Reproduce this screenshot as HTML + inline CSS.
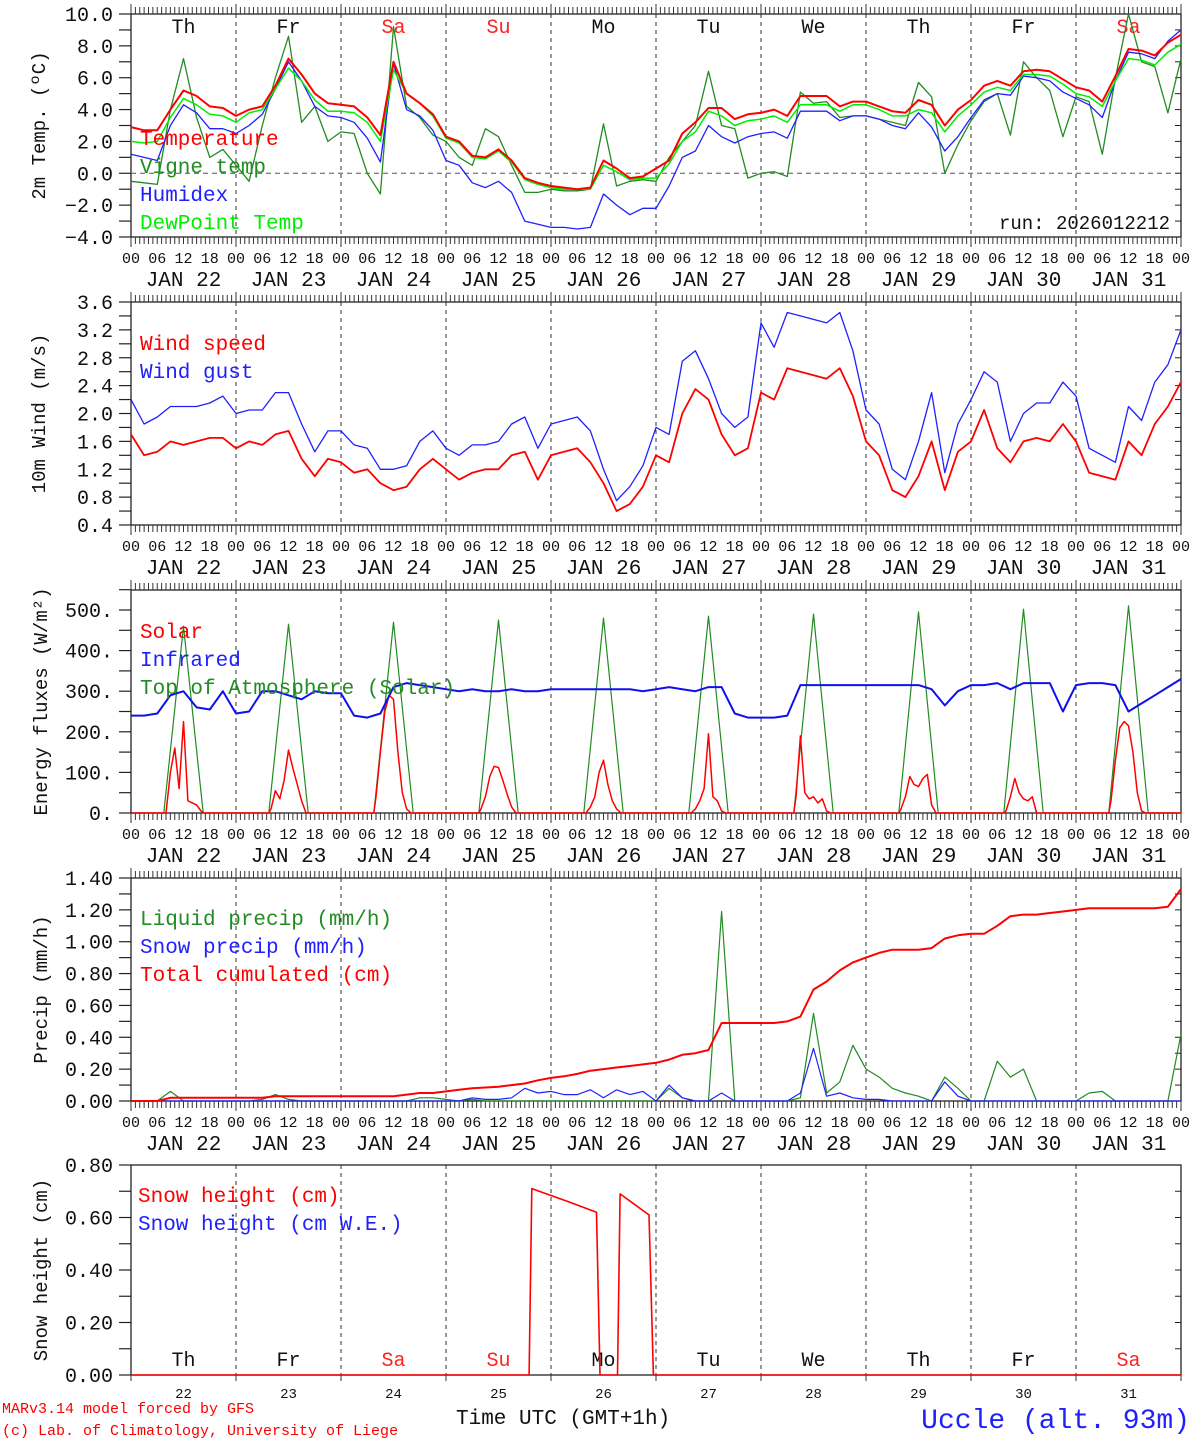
<!DOCTYPE html>
<html><head><meta charset="utf-8"><style>
html,body{margin:0;padding:0;background:#fff;}
svg{display:block;}
text{font-family:"Liberation Mono","DejaVu Sans Mono",monospace;}
</style></head><body>
<svg id="chart" width="1194" height="1440" viewBox="0 0 1194 1440" xmlns="http://www.w3.org/2000/svg"></svg>
<script>
// ---------- data (3-hourly, 81 points from Jan 22 00 UTC) ----------
const dayLabels = ["JAN 22","JAN 23","JAN 24","JAN 25","JAN 26","JAN 27","JAN 28","JAN 29","JAN 30","JAN 31"];
const dayNames = ["Th","Fr","Sa","Su","Mo","Tu","We","Th","Fr","Sa"];
const dayNums = ["22","23","24","25","26","27","28","29","30","31"];
const hourTicks = ["00","06","12","18"];
const temperature = [2.9,2.7,2.7,4.0,5.2,4.85,4.2,4.1, 3.6,4.0,4.2,5.5,7.2,6.2,5.0,4.4, 4.3,4.2,3.5,2.4,7.0,5.0,4.4,3.7, 2.3,2.0,1.1,1.0,1.5,0.8,-0.3,-0.6, -0.8,-0.9,-1.0,-0.9,0.8,0.3,-0.3,-0.2, 0.3,0.8,2.5,3.2,4.1,4.1,3.4,3.7, 3.8,4.0,3.6,4.85,4.85,4.85,4.2,4.5, 4.5,4.2,3.9,3.8,4.6,4.3,3.0,4.0, 4.6,5.5,5.8,5.5,6.4,6.5,6.4,5.9, 5.4,5.2,4.5,6.1,7.8,7.7,7.4,8.2, 8.7];
const dewpoint = [2.0,1.9,2.0,3.5,4.7,4.3,3.7,3.6, 3.2,3.8,4.0,5.3,6.6,5.8,4.6,3.9, 3.9,3.8,3.2,2.0,6.5,5.0,4.4,3.6, 2.2,1.9,1.0,0.9,1.4,0.7,-0.4,-0.7, -0.9,-1.0,-1.0,-1.0,0.5,0.1,-0.4,-0.3, -0.3,0.6,2.0,2.6,3.9,3.6,3.0,3.3, 3.4,3.6,3.2,4.3,4.3,4.3,3.9,4.3, 4.3,4.0,3.6,3.6,4.0,3.8,2.6,3.6, 4.3,5.1,5.4,5.2,6.2,6.2,6.1,5.6, 5.0,4.8,4.2,5.8,7.2,7.1,6.8,7.6, 8.1];
const humidex = [1.2,1.0,0.8,3.0,4.3,3.8,2.8,2.8, 2.5,3.0,3.7,5.3,7.0,5.8,4.2,3.6, 3.5,3.2,2.2,0.7,6.9,4.0,3.6,2.7, 0.8,0.5,-0.6,-0.9,-0.5,-1.2,-3.0,-3.2, -3.4,-3.4,-3.5,-3.4,-1.3,-2.0,-2.6,-2.2, -2.2,-0.8,1.0,1.4,3.0,2.3,1.9,2.3, 2.5,2.6,2.2,3.9,3.9,3.9,3.3,3.6, 3.6,3.4,3.0,2.8,3.8,2.9,1.4,2.3, 3.5,4.6,5.0,4.9,6.1,6.0,5.8,5.1, 4.7,4.3,3.5,5.8,7.6,7.5,7.2,8.3, 9.0];
const vigne = [-0.5,-0.6,-0.7,4.0,7.2,3.5,1.0,1.5, 0.5,-0.5,3.0,6.0,8.6,3.2,4.2,2.0, 2.6,2.5,0.0,-1.3,9.2,4.2,3.5,2.4, 2.0,1.0,0.5,2.8,2.3,0.5,-1.2,-1.2, -1.0,-1.1,-1.1,-1.0,3.1,-0.8,-0.5,-0.4, -0.5,1.0,2.0,3.0,6.4,3.0,2.8,-0.3, 0.0,0.1,-0.2,5.1,4.4,4.5,3.5,3.6, 3.6,3.4,3.2,3.0,5.7,4.8,0.0,1.8, 3.3,4.5,5.0,2.4,7.0,6.0,5.2,2.3, 4.8,4.5,1.2,6.0,10.0,7.0,6.7,3.8, 7.2];
const windSpeed = [1.7,1.4,1.45,1.6,1.55,1.6,1.65,1.65, 1.5,1.6,1.55,1.7,1.75,1.35,1.1,1.35, 1.3,1.15,1.2,1.0,0.9,0.95,1.2,1.35, 1.2,1.05,1.15,1.2,1.2,1.4,1.45,1.05, 1.4,1.45,1.5,1.3,1.0,0.6,0.7,0.95, 1.4,1.3,2.0,2.35,2.2,1.7,1.4,1.5, 2.3,2.2,2.65,2.6,2.55,2.5,2.65,2.25, 1.6,1.4,0.9,0.8,1.1,1.6,0.9,1.45, 1.6,2.05,1.5,1.3,1.6,1.65,1.6,1.85, 1.6,1.15,1.1,1.05,1.6,1.4,1.85,2.1, 2.45];
const windGust = [2.2,1.85,1.95,2.1,2.1,2.1,2.15,2.25, 2.0,2.05,2.05,2.3,2.3,1.85,1.45,1.75, 1.75,1.55,1.5,1.2,1.2,1.25,1.6,1.75, 1.5,1.4,1.55,1.55,1.6,1.85,1.95,1.5, 1.85,1.9,1.95,1.75,1.2,0.75,0.95,1.25, 1.8,1.7,2.75,2.9,2.5,2.0,1.8,1.95, 3.3,2.95,3.45,3.4,3.35,3.3,3.45,2.9, 2.05,1.85,1.2,1.05,1.6,2.3,1.15,1.85, 2.2,2.6,2.45,1.6,2.0,2.15,2.15,2.45, 2.25,1.5,1.4,1.3,2.1,1.9,2.45,2.7, 3.2];
const infrared = [240,240,245,290,300,260,255,300, 245,250,300,300,290,280,300,295, 295,240,235,245,310,320,315,310, 305,300,305,300,300,305,300,300, 305,305,305,305,305,305,305,300, 305,310,305,300,310,310,245,235, 235,235,240,315,315,315,315,315, 315,315,315,315,315,305,265,300, 315,315,320,305,320,320,320,250, 315,320,320,315,250,270,290,310, 330];
const solarHours = [8,9,10,11,12,13,14,15,16];
const solar = [0,100,160,60,225,30,25,20,5, 10,55,35,80,155,110,70,30,0, 40,150,250,290,280,150,50,10,0, 10,40,90,115,112,80,45,15,0, 0,15,40,100,130,70,30,10,0, 0,10,30,60,195,40,30,5,0, 40,190,50,35,40,25,35,5,0, 10,40,90,70,65,85,95,20,0, 5,40,85,50,35,30,40,0,0, 30,130,210,225,215,150,50,5,0];
const toaPeak = [460,465,470,475,480,485,490,495,502,510];
const liquidPrecip = [0,0,0,0.06,0,0,0,0, 0,0,0.01,0.04,0.01,0,0,0, 0,0,0,0,0,0,0.02,0.02, 0.01,0,0.01,0,0,0,0,0, 0,0,0,0,0,0,0,0, 0,0.08,0.02,0,0,1.19,0,0, 0,0,0,0.02,0.55,0.05,0.12,0.35, 0.2,0.15,0.08,0.05,0.03,0,0.15,0.08, 0,0,0.25,0.15,0.2,0,0,0, 0,0.05,0.06,0,0,0,0,0, 0.42];
const snowPrecip = [0,0,0,0,0,0,0,0, 0,0,0,0,0,0,0,0, 0,0,0,0,0,0,0,0, 0,0,0.02,0.01,0.01,0.02,0.08,0.05, 0.06,0.04,0.04,0.07,0.02,0.07,0.04,0.06, 0,0.1,0.02,0,0,0.05,0,0, 0,0,0,0.05,0.33,0.03,0.05,0.02, 0.01,0.01,0,0,0,0,0.12,0.03, 0,0,0,0,0,0,0,0, 0,0,0,0,0,0,0,0, 0];
const cumulated = [0,0,0,0.02,0.02,0.02,0.02,0.02, 0.02,0.02,0.02,0.03,0.03,0.03,0.03,0.03, 0.03,0.03,0.03,0.03,0.03,0.04,0.05,0.05, 0.06,0.07,0.08,0.085,0.09,0.10,0.11,0.13, 0.145,0.155,0.17,0.19,0.20,0.21,0.22,0.23, 0.24,0.26,0.29,0.30,0.32,0.49,0.49,0.49, 0.49,0.49,0.50,0.53,0.70,0.75,0.82,0.87, 0.90,0.93,0.95,0.95,0.95,0.96,1.02,1.04, 1.05,1.05,1.10,1.16,1.17,1.17,1.18,1.19, 1.20,1.21,1.21,1.21,1.21,1.21,1.21,1.22, 1.33];
const snowHours = [0,91.0,91.6,100,106.4,107.2,111.2,111.8,118.4,119.4,240];
const snowHeight = [0,0,0.71,0.66,0.62,0,0,0.69,0.61,0,0];

// ---------- drawing ----------
const svg = document.getElementById('chart');
const NS = 'http://www.w3.org/2000/svg';
const X0 = 131, X1 = 1181, HOURS = 240;
function xs(h){ return X0 + h*(X1-X0)/HOURS; }
function mk(tag, attrs, parent){
  const e = document.createElementNS(NS, tag);
  for (const k in attrs) e.setAttribute(k, attrs[k]);
  (parent||svg).appendChild(e);
  return e;
}
function txt(s, x, y, size, color, anchor, parent){
  const t = mk('text', {x:x, y:y, 'font-size':size, fill:color, 'text-anchor':anchor||'start'}, parent);
  t.textContent = s;
  return t;
}
const panels = [
  {top:14, bot:237, min:-4, max:10, step:1, lab:2, dec:1, title:'2m Temp. (\u00baC)', ttl:45},
  {top:302, bot:525, min:0.4, max:3.6, step:0.2, lab:0.4, dec:1, title:'10m Wind (m/s)', ttl:45},
  {top:590, bot:813, min:0, max:(813-590)/0.406, step:50, lab:100, dec:0, title:'Energy fluxes (W/m\u00b2)', ttl:47},
  {top:878, bot:1101, min:0, max:1.4, step:0.1, lab:0.2, dec:2, title:'Precip (mm/h)', ttl:47},
  {top:1165, bot:1375, min:0, max:0.8, step:0.1, lab:0.2, dec:2, title:'Snow height (cm)', ttl:47}
];
function ys(p, v){ return p.bot - (v - p.min)*(p.bot - p.top)/(p.max - p.min); }

panels.forEach(function(p, pi){
  const g = mk('g', {});
  
  
  for (let d=1; d<10; d++){
    const l = mk('line', {x1:xs(d*24), x2:xs(d*24), y1:p.top, y2:p.bot, stroke:'#333', 'stroke-width':1, 'stroke-dasharray':'4,4'}, g);
    
    
  }
  const fr = mk('rect', {x:X0, y:p.top, width:X1-X0, height:p.bot-p.top, fill:'none', stroke:'#222', 'stroke-width':1.3}, g);
  
  
  const n = Math.round((Math.min(p.max, pi==2?550:p.max) - p.min)/p.step);
  for (let i=0; i<=n; i++){
    const v = p.min + i*p.step;
    const y = ys(p, v);
    mk('line', {x1:X0-12, x2:X0, y1:y, y2:y, stroke:'#222', 'stroke-width':1.2}, g);
    mk('line', {x1:X1-6, x2:X1, y1:y, y2:y, stroke:'#222', 'stroke-width':1}, g);
    const r = v / p.lab;
    if (Math.abs(r - Math.round(r)) < 1e-6){
      let s = p.dec==0 ? Math.round(v) + '.' : v.toFixed(p.dec);
      if (s.charAt(0)=='-') s = '\u2212' + s.slice(1);
      const t = txt(s, X0-18, y+7, 20, '#111', 'end', g);
      
      
    }
  }
  const yt = txt(p.title, 0, 0, 19, '#111', 'middle', g);
  yt.setAttribute('transform', 'translate(' + p.ttl + ',' + ((p.top+p.bot)/2) + ') rotate(-90)');
  
  
  if (pi < 4){
    for (let h=0; h<=HOURS; h++){
      const L = (h%24==0) ? 10 : 7;
      mk('line', {x1:xs(h), x2:xs(h), y1:p.top-L, y2:p.top, stroke:'#333', 'stroke-width':1}, g);
      mk('line', {x1:xs(h), x2:xs(h), y1:p.bot, y2:p.bot+L, stroke:'#333', 'stroke-width':1}, g);
    }
    for (let d=0; d<=10; d++){
      for (let k=0; k<4; k++){
        if (d==10 && k>0) break;
        const t = txt(hourTicks[k], xs(d*24+k*6), p.bot+26, 15, '#111', 'middle', g);
        
        
      }
    }
    for (let d=0; d<10; d++){
      const t = txt(dayLabels[d], xs(d*24+12), p.bot+49, 21, '#111', 'middle', g);
      
      
    }
  } else {
    for (let d=0; d<=10; d++){
      mk('line', {x1:xs(d*24), x2:xs(d*24), y1:p.bot, y2:p.bot+6, stroke:'#333', 'stroke-width':1}, g);
    }
    for (let d=0; d<10; d++){
      const t = txt(dayNums[d], xs(d*24+12), p.bot+23, 14, '#111', 'middle', g);
      
      
    }
  }
});

for (let d=0; d<10; d++){
  const c = (dayNames[d]=='Sa' || dayNames[d]=='Su') ? '#ff2020' : '#111';
  const t1 = txt(dayNames[d], xs(d*24+12), 33, 20, c, 'middle');
  
  
  const t2 = txt(dayNames[d], xs(d*24+12), 1366, 20, c, 'middle');
  
  
}

const zl = mk('line', {x1:X0, x2:X1, y1:ys(panels[0],0), y2:ys(panels[0],0), stroke:'#555', 'stroke-width':1, 'stroke-dasharray':'5,4'});



function series(p, hrs, vals, color, w, name){
  const pts = vals.map(function(v,i){ return xs(hrs[i]).toFixed(1) + ',' + ys(p, v).toFixed(1); }).join(' ');
  const pl = mk('polyline', {points:pts, fill:'none', stroke:color, 'stroke-width':w, 'stroke-linejoin':'round'});
  
  
  return pl;
}
const h3 = temperature.map(function(_,i){ return i*3; });

series(panels[0], h3, vigne, '#228b22', 1.3, 'vigne-temp-line');
series(panels[0], h3, humidex, '#2020ff', 1.3, 'humidex-line');
series(panels[0], h3, dewpoint, '#00ee00', 1.5, 'dewpoint-line');
series(panels[0], h3, temperature, '#ff0000', 2, 'temperature-line');
series(panels[1], h3, windGust, '#2020ff', 1.3, 'wind-gust-line');
series(panels[1], h3, windSpeed, '#ff0000', 1.8, 'wind-speed-line');
{
  const th = [], tv = [];
  th.push(0); tv.push(0);
  toaPeak.forEach(function(pk, d){
    th.push(d*24+7.5); tv.push(0);
    th.push(d*24+12); tv.push(pk);
    th.push(d*24+16.5); tv.push(0);
  });
  th.push(240); tv.push(0);
  series(panels[2], th, tv, '#228b22', 1.2, 'toa-solar-line');
  const sh = [0], sv = [0];
  for (let d=0; d<10; d++){
    sh.push(d*24+7.5); sv.push(0);
    solarHours.forEach(function(hh, k){ sh.push(d*24+hh); sv.push(solar[d*solarHours.length+k]); });
    sh.push(d*24+16.7); sv.push(0);
  }
  sh.push(240); sv.push(0);
  series(panels[2], sh, sv, '#ff0000', 1.5, 'solar-line');
}
series(panels[2], h3, infrared, '#1010ee', 2, 'infrared-line');
series(panels[3], h3, liquidPrecip, '#228b22', 1.2, 'liquid-precip-line');
series(panels[3], h3, snowPrecip, '#2020ff', 1.2, 'snow-precip-line');
series(panels[3], h3, cumulated, '#ff0000', 2, 'cumulated-precip-line');
series(panels[4], snowHours, snowHeight, '#ff0000', 1.6, 'snow-height-line');

function legend(s, x, y, c, name){
  const t = txt(s, x, y, 21, c, 'start');
  
  
}
legend('Temperature', 140, 145, '#ff0000', 'legend-temperature');
legend('Vigne temp', 140, 173, '#228b22', 'legend-vigne-temp');
legend('Humidex', 140, 201, '#2020ff', 'legend-humidex');
legend('DewPoint Temp', 140, 229, '#00ee00', 'legend-dewpoint');
const run = txt('run: 2026012212', 1170, 229, 19, '#111', 'end');


legend('Wind speed', 140, 350, '#ff0000', 'legend-wind-speed');
legend('Wind gust', 140, 378, '#2020ff', 'legend-wind-gust');
legend('Solar', 140, 638, '#ff0000', 'legend-solar');
legend('Infrared', 140, 666, '#2020ff', 'legend-infrared');
legend('Top of Atmosphere (Solar)', 140, 694, '#228b22', 'legend-toa');
legend('Liquid precip (mm/h)', 140, 925, '#228b22', 'legend-liquid-precip');
legend('Snow precip (mm/h)', 140, 953, '#2020ff', 'legend-snow-precip');
legend('Total cumulated (cm)', 140, 981, '#ff0000', 'legend-cumulated');
legend('Snow height (cm)', 138, 1202, '#ff0000', 'legend-snow-height');
legend('Snow height (cm W.E.)', 138, 1230, '#2020ff', 'legend-snow-we');

const f1 = txt('MARv3.14 model forced by GFS', 2, 1413, 15, '#ff0000', 'start');


const f2 = txt('(c) Lab. of Climatology, University of Liege', 2, 1435, 15, '#ff0000', 'start');


const xt = txt('Time UTC (GMT+1h)', 456, 1424, 21, '#111', 'start');


const st = txt('Uccle (alt. 93m)', 1190, 1428, 28, '#2020ff', 'end');


</script>
</body></html>
